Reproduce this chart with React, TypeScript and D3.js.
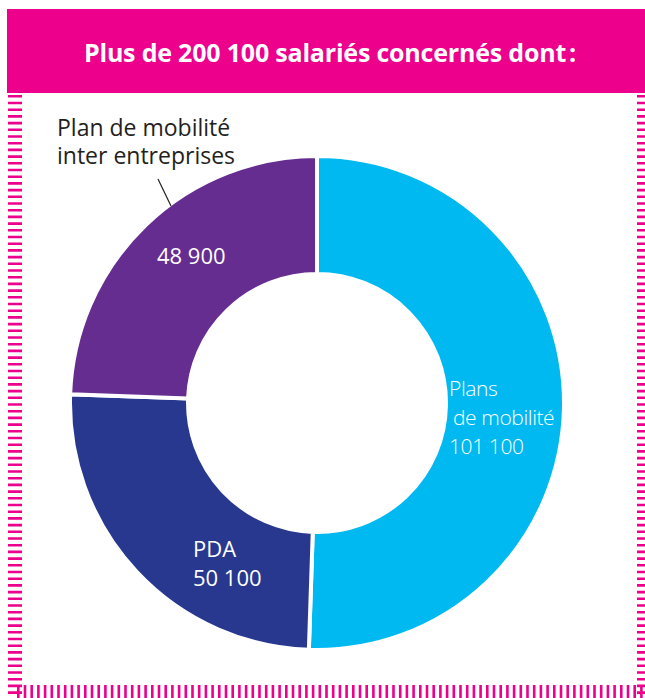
import React from "react";
import * as d3 from "d3";

const categories = ["Plans de mobilité", "PDA", "Plan de mobilité inter entreprises"];
const values = [101100, 50100, 48900];
const valueLabels = ["101 100", "50 100", "48 900"];
const colors = ["#00B9F1", "#28388F", "#662D91"];
const title = "Plus de 200 100 salariés concernés dont\u202F:";

const W = 645;
const H = 698;
const cx = 317;
const cy = 403;
const R = 247;
const r = 129;
const MAGENTA = "#EC008C";
const FONT = "'Open Sans', 'DejaVu Sans', sans-serif";

export default function App() {
  const pie = d3.pie<number>().sort(null).value((d) => d);
  const arcs = pie(values);
  const arcGen = d3.arc<d3.PieArcDatum<number>>().innerRadius(r).outerRadius(R);

  return (
    <svg
      width={W}
      height={H}
      style={{ position: "absolute", left: 0, top: 0 }}
      xmlns="http://www.w3.org/2000/svg"
    >
      <rect x={0} y={0} width={W} height={H} fill="#fff" />
      {/* dashed frame */}
      <g stroke={MAGENTA} strokeWidth={14} strokeDasharray="2.6 4.1" fill="none">
        <line x1={15} y1={95} x2={15} y2={H} />
        <line x1={644} y1={95} x2={644} y2={H} />
        <line x1={17} y1={692} x2={W} y2={692} />
      </g>
      {/* header */}
      <rect x={7} y={9} width={W} height={84} fill={MAGENTA} />
      <text
        x={330}
        y={62}
        textAnchor="middle"
        fill="#fff"
        fontFamily={FONT}
        fontWeight={700}
        fontSize={25}
        letterSpacing={-0.2}
      >
        {title}
      </text>

      {/* donut */}
      <g transform={`translate(${cx},${cy})`}>
        {arcs.map((a, i) => (
          <path key={categories[i]} d={arcGen(a) || ""} fill={colors[i]} stroke="#fff" strokeWidth={4} />
        ))}
      </g>

      {/* labels */}
      <g fontFamily={FONT} fontSize={22}>
        <text fill="#fff" fontWeight={300} fontSize={21} letterSpacing={-0.4}>
          <tspan x={449} y={396}>Plans</tspan>
          <tspan x={453} y={425}>de mobilité</tspan>
          <tspan x={449} y={454}>{valueLabels[0]}</tspan>
        </text>
        <text fill="#fff">
          <tspan x={193} y={557}>PDA</tspan>
          <tspan x={193} y={586}>{valueLabels[1]}</tspan>
        </text>
        <text fill="#fff">
          <tspan x={157} y={264}>{valueLabels[2]}</tspan>
        </text>
        <text fill="#231F20" fontSize={23}>
          <tspan x={57} y={136}>Plan de mobilité</tspan>
          <tspan x={57} y={164}>inter entreprises</tspan>
        </text>
        <line x1={158} y1={179} x2={171} y2={206} stroke="#231F20" strokeWidth={1.2} />
      </g>
    </svg>
  );
}
